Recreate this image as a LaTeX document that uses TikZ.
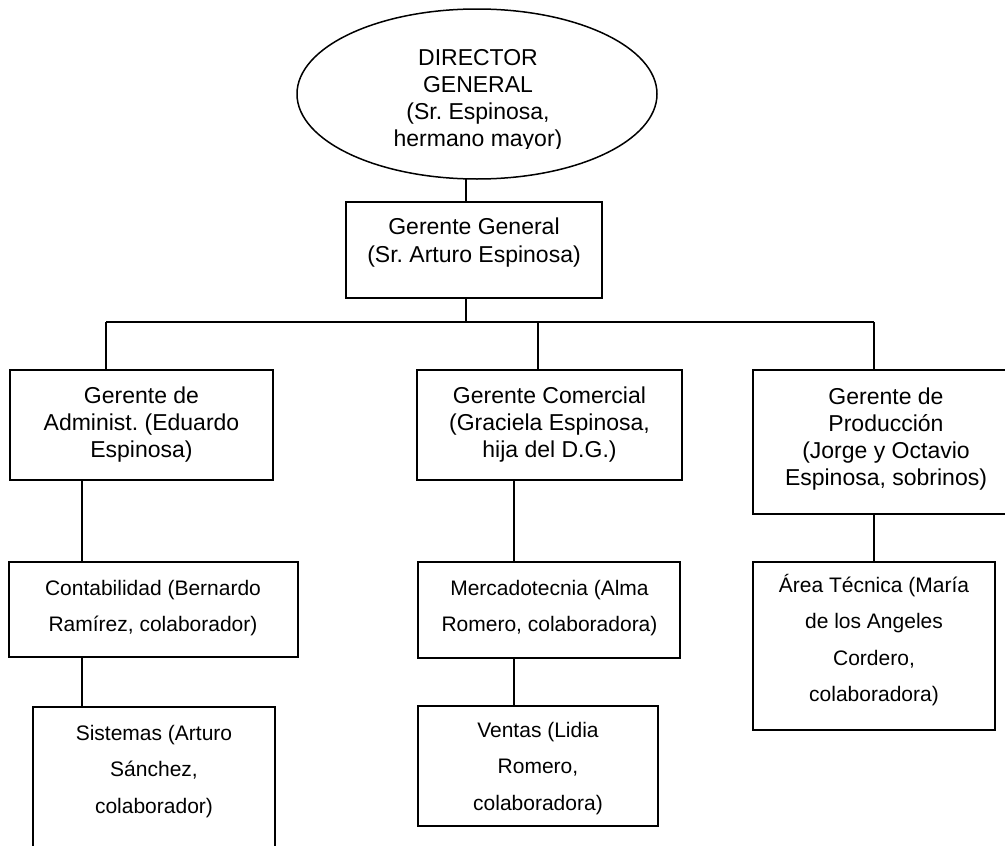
\documentclass[tikz,border=0pt]{standalone}
\usepackage{fontspec}
\setmainfont{Liberation Sans}
\usetikzlibrary{shapes.geometric,fit}
\frenchspacing
% centred lines whose baseline is the first line's baseline
\newcommand\stack[1]{\begin{tabular}[t]{@{}c@{}}#1\end{tabular}}
\begin{document}
\begin{tikzpicture}[x=1pt,y=-1pt,
  box/.style={draw, line width=1.7pt, rectangle, inner sep=0pt, outer sep=0pt},
  oval/.style={draw, line width=1.5pt, ellipse, inner sep=0pt, outer sep=0pt},
  link/.style={line width=1.7pt},
  big/.style={font=\fontsize{23}{27}\selectfont, inner sep=0pt, anchor=base},
  head/.style={font=\fontsize{23}{28.5}\selectfont, inner sep=0pt, anchor=base},
  small/.style={font=\fontsize{21}{36.5}\selectfont, inner sep=0pt, anchor=base}]
\useasboundingbox (0,0) rectangle (1005,846);
\clip (0,0) rectangle (1005,846);

% top of the chart
\node[oval, minimum width=360pt, minimum height=170pt] (dg) at (477,94) {};
\begin{scope}
  \clip (280,0) rectangle (680,148);
  \node[big] (dgt) at (478,65) {\stack{DIRECTOR\\GENERAL\\(Sr. Espinosa,\\hermano mayor)}};
\end{scope}

\node[box, fit={(346,202) (602,298)}] (gg) {};
\node[head] (ggt) at (474,234) {\stack{Gerente General\\(Sr. Arturo Espinosa)}};

% managers
\node[box, fit={(10,370) (273,480)}] (ad) {};
\node[big] (adt) at (141.5,403) {\stack{Gerente de\\Administ. (Eduardo\\Espinosa)}};

\node[box, fit={(417,370) (682,480)}] (co) {};
\node[big] (cot) at (549.5,403) {\stack{Gerente Comercial\\(Graciela Espinosa,\\hija del D.G.)}};

\node[box, fit={(753,370) (1019,514)}] (pr) {};
\node[big] (prt) at (886,404) {\stack{Gerente de\\Producción\\(Jorge y Octavio\\Espinosa, sobrinos)}};

% staff
\node[box, fit={(9,562) (298,657)}] (ct) {};
\node[small] (ctt) at (153,595) {\stack{Contabilidad (Bernardo\\Ramírez, colaborador)}};

\node[box, fit={(33,707) (275,870)}] (si) {};
\node[small] (sit) at (154,740) {\stack{Sistemas (Arturo\\Sánchez,\\colaborador)}};

\node[box, fit={(418,562) (680,658)}] (me) {};
\node[small] (met) at (549.5,595) {\stack{Mercadotecnia (Alma\\Romero, colaboradora)}};

\node[box, fit={(418,706) (658,826)}] (ve) {};
\node[small] (vet) at (538,737) {\stack{Ventas (Lidia\\Romero,\\colaboradora)}};

\node[box, fit={(753,562) (995,730)}] (ar) {};
\node[small] (art) at (874,592) {\stack{Área Técnica (María\\de los Angeles\\Cordero,\\colaboradora)}};

% connectors
\coordinate (barL) at (106,322);
\coordinate (barC) at (538,322);
\coordinate (barR) at (874,322);
\coordinate (xg) at (466,0);
\coordinate (xa) at (82,0);
\coordinate (xm) at (514,0);
\coordinate (xp) at (874,0);

\draw[link] (xg |- gg.north) -- (xg |- dg.south);
\draw[link] (xg |- gg.south) -- (xg |- barL);
\draw[link] (barL) -- (barR);
\draw[link] (barL) -- (barL |- ad.north);
\draw[link] (barC) -- (barC |- co.north);
\draw[link] (barR) -- (barR |- pr.north);
\draw[link] (xa |- ad.south) -- (xa |- ct.north);
\draw[link] (xa |- ct.south) -- (xa |- si.north);
\draw[link] (xm |- co.south) -- (xm |- me.north);
\draw[link] (xm |- me.south) -- (xm |- ve.north);
\draw[link] (xp |- pr.south) -- (xp |- ar.north);
\end{tikzpicture}
\end{document}
